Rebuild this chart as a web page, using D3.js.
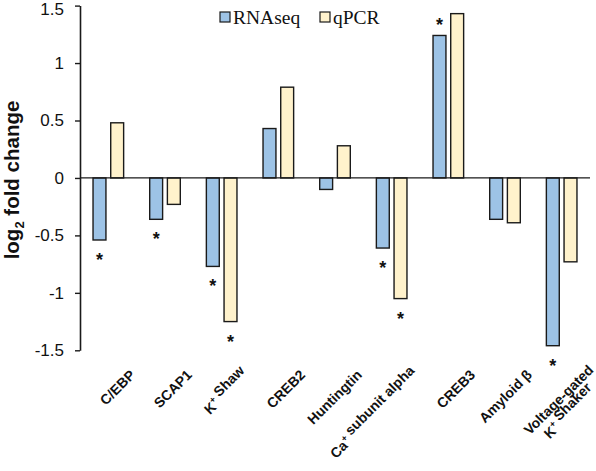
<!DOCTYPE html>
<html>
<head>
<meta charset="utf-8">
<script src="https://cdn.jsdelivr.net/npm/d3@7"></script>
<style>
  html, body { margin: 0; padding: 0; background: #fff; }
  svg { display: block; }
</style>
</head>
<body>
<svg id="chart" width="596" height="471"></svg>
<script>
// ---- data ----
const categories = ["C/EBP", "SCAP1", "K+ Shaw", "CREB2", "Huntingtin", "Ca+ subunit alpha", "CREB3", "Amyloid β", "Voltage-gated|K+ Shaker"];
const series = ["RNAseq", "qPCR"];
const rnaseq = [-0.54, -0.36, -0.77, 0.43, -0.10, -0.61, 1.24, -0.36, -1.46];
const qpcr   = [0.48, -0.23, -1.25, 0.79, 0.28, -1.05, 1.43, -0.39, -0.73];
const rnaseqSig = [true, true, true, false, false, true, true, false, true];
const qpcrSig   = [false, false, true, false, false, true, false, false, false];
const yTicks = [-1.5, -1, -0.5, 0, 0.5, 1, 1.5];
const yTickLabels = ["-1.5", "-1", "-0.5", "0", "0.5", "1", "1.5"];

const colors = { RNAseq: "#9dc3e6", qPCR: "#fff2cc" };
const stroke = "#1a1a1a";

const svg = d3.select("#chart");
const mLeft = 80, mRight = 590, mTop = 5.6, mBottom = 350.3;

const y = d3.scaleLinear().domain([-1.5, 1.5]).range([mBottom, mTop]);
const x0 = d3.scaleBand().domain(categories).range([mLeft, mRight]).paddingInner(0.46).paddingOuter(0.23);
const x1 = d3.scaleBand().domain(series).range([0, x0.bandwidth()]).paddingInner(0.27).paddingOuter(0);

const rows = categories.map((c, i) => ({
  cat: c,
  vals: [
    { s: "RNAseq", v: rnaseq[i], sig: rnaseqSig[i] },
    { s: "qPCR", v: qpcr[i], sig: qpcrSig[i] }
  ]
}));

// bars
const g = svg.append("g");
const groups = g.selectAll("g.grp").data(rows).join("g")
  .attr("class", "grp")
  .attr("transform", d => `translate(${x0(d.cat)},0)`);

groups.selectAll("rect").data(d => d.vals).join("rect")
  .attr("x", d => x1(d.s))
  .attr("width", x1.bandwidth())
  .attr("y", d => Math.min(y(d.v), y(0)))
  .attr("height", d => Math.abs(y(d.v) - y(0)))
  .attr("fill", d => colors[d.s])
  .attr("stroke", stroke)
  .attr("stroke-width", 1.4);

// significance stars
groups.selectAll("text.star").data(d => d.vals.filter(v => v.sig)).join("text")
  .attr("class", "star")
  .attr("x", d => x1(d.s) + x1.bandwidth() / 2)
  .attr("y", d => d.v < 0 ? y(d.v) + 16 + 10 : y(d.v) - 14 + 10)
  .attr("text-anchor", "middle")
  .attr("font-family", "Arial, 'Liberation Sans', sans-serif")
  .attr("font-weight", "bold")
  .attr("font-size", 18)
  .attr("fill", "#111")
  .text("*");

// zero line
svg.append("line")
  .attr("x1", mLeft).attr("x2", mRight)
  .attr("y1", y(0)).attr("y2", y(0))
  .attr("stroke", stroke).attr("stroke-width", 1.3);

// y axis
const yAxis = d3.axisLeft(y).tickValues(yTicks)
  .tickFormat((d, i) => yTickLabels[i]).tickSizeOuter(0).tickSizeInner(5).tickPadding(11);
const ya = svg.append("g").attr("transform", `translate(${mLeft},0)`).call(yAxis);
ya.select(".domain").attr("stroke", stroke).attr("stroke-width", 1.6);
ya.selectAll(".tick line").attr("stroke", stroke).attr("stroke-width", 1.4);
ya.selectAll(".tick text")
  .attr("font-family", "Arial, 'Liberation Sans', sans-serif")
  .attr("font-size", 17).attr("fill", "#111")
  .attr("dy", d => d === 1.5 ? "0.5em" : "0.32em");

// y axis title
const yt = svg.append("text")
  .attr("transform", `translate(19,180) rotate(-90)`)
  .attr("text-anchor", "middle")
  .attr("font-family", "Arial, 'Liberation Sans', sans-serif")
  .attr("font-weight", "bold")
  .attr("font-size", 20.5)
  .attr("fill", "#111");
yt.append("tspan").text("log");
yt.append("tspan").attr("font-size", 13).attr("dy", 5).text("2");
yt.append("tspan").attr("dy", -5).text(" fold change");

// x category labels
function addLabel(sel, str) {
  const parts = str.split(/(\+)/);
  parts.forEach(p => {
    if (p === "+") {
      sel.append("tspan").attr("font-size", 9).attr("dy", -6).text("+");
      sel.append("tspan").attr("dy", 6).text("");
    } else if (p.length) {
      sel.append("tspan").text(p);
    }
  });
}
categories.forEach(c => {
  const lines = c.split("|");
  const cx = x0(c) + x0.bandwidth() / 2;
  const gl = svg.append("g").attr("transform", `translate(${cx + 20},${368}) rotate(-45)`);
  lines.forEach((ln, li) => {
    const t = gl.append("text")
      .attr("x", lines.length > 1 ? (li === 0 ? 7 : -7) : 0)
      .attr("y", (li * 17) + 11)
      .attr("text-anchor", "end")
      .attr("font-family", "Arial, 'Liberation Sans', sans-serif")
      .attr("font-weight", "bold")
      .attr("font-size", 14)
      .attr("fill", "#111");
    addLabel(t, ln);
  });
});

// legend
const legend = svg.append("g");
const legendItems = [{ s: "RNAseq", x: 220 }, { s: "qPCR", x: 320 }];
legendItems.forEach(it => {
  legend.append("rect").attr("x", it.x).attr("y", 12).attr("width", 10).attr("height", 10)
    .attr("fill", colors[it.s]).attr("stroke", stroke).attr("stroke-width", 1.2);
  legend.append("text").attr("x", it.x + 13).attr("y", 24)
    .attr("font-family", "'Liberation Serif', 'Times New Roman', serif")
    .attr("font-size", 19.5).attr("fill", "#111").text(it.s);
});
</script>
</body>
</html>
